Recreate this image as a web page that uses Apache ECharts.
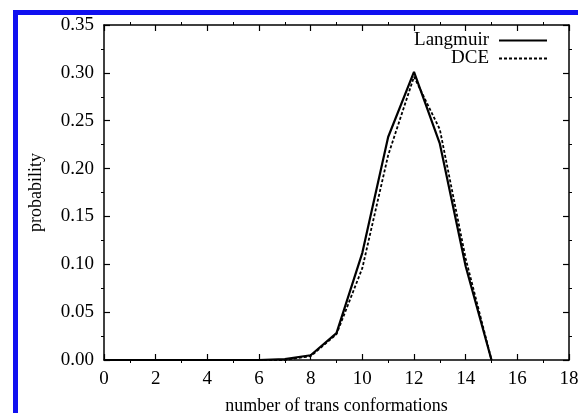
<!DOCTYPE html>
<html>
<head>
<meta charset="utf-8">
<script src="https://cdn.jsdelivr.net/npm/echarts@6/dist/echarts.min.js"></script>
<style>
html,body{margin:0;padding:0;background:#fff;}
#c{width:578px;height:413px;}
</style>
</head>
<body>
<div id="c"></div>
<script>
var xValues = [0,1,2,3,4,5,6,7,8,9,10,11,12,13,14,15];
var langmuir = [0,0,0,0,0,0,0,0.001,0.005,0.028,0.112,0.233,0.301,0.226,0.098,0];
var dce = [0,0,0,0,0,0,0,0,0.004,0.027,0.096,0.214,0.296,0.241,0.106,0];
var seriesNames = ['Langmuir','DCE'];

var font = 'Liberation Serif';
var chart = echarts.init(document.getElementById('c'));
function pairs(v){ return xValues.map(function(x,i){return [x,v[i]];}); }
function tick(){ return {show:true, inside:true, length:6, lineStyle:{color:'#000',width:1.2}}; }
function minor(){ return {show:true, splitNumber:2, length:-3, lineStyle:{color:'#000',width:1}}; }
var axLine = {show:true,onZero:false,lineStyle:{color:'#000',width:1.5}};
chart.setOption({
  animation:false,
  backgroundColor:'#fff',
  grid:{left:104,right:9,top:25,bottom:53,containLabel:false,outerBoundsMode:'none'},
  legend:{
    right:25, top:26, orient:'vertical', align:'right', itemGap:-1,
    itemWidth:48, itemHeight:12,
    itemStyle:{opacity:0},
    textStyle:{fontFamily:font,fontSize:19,color:'#000',lineHeight:16,padding:[0,5,0,0]},
    data:seriesNames
  },
  xAxis:[{
    type:'value', min:0, max:18, interval:2,
    name:'number of trans conformations', nameLocation:'middle', nameGap:37,
    nameTextStyle:{fontFamily:font,fontSize:18,color:'#000'},
    axisLine:axLine, axisTick:tick(), minorTick:minor(), splitLine:{show:false},
    axisLabel:{fontFamily:font,fontSize:19,color:'#000',margin:10}
  },{
    type:'value', position:'top', min:0, max:18, interval:2,
    axisLine:axLine, axisTick:tick(), minorTick:minor(), splitLine:{show:false},
    axisLabel:{show:false}
  }],
  yAxis:[{
    type:'value', min:0, max:0.35, interval:0.05,
    name:'probability', nameLocation:'middle', nameGap:59, nameRotate:90,
    nameTextStyle:{fontFamily:font,fontSize:18,color:'#000'},
    axisLine:axLine, axisTick:tick(), minorTick:minor(), splitLine:{show:false},
    axisLabel:{fontFamily:font,fontSize:19,color:'#000',margin:10,
      formatter:function(v){return v.toFixed(2);}}
  },{
    type:'value', position:'right', min:0, max:0.35, interval:0.05,
    axisLine:axLine, axisTick:tick(), minorTick:minor(), splitLine:{show:false},
    axisLabel:{show:false}
  }],
  graphic:[
    {type:'rect', shape:{x:13,y:10,width:565,height:5}, style:{fill:'#1010f0'}},
    {type:'rect', shape:{x:13,y:10,width:5,height:403}, style:{fill:'#1010f0'}}
  ],
  series:[
    {name:seriesNames[0], type:'line', xAxisIndex:0, yAxisIndex:0, data:pairs(langmuir), symbol:'none',
     lineStyle:{color:'#000',width:2.2,type:'solid'}, itemStyle:{color:'#000'}},
    {name:seriesNames[1], type:'line', xAxisIndex:1, yAxisIndex:1, data:pairs(dce), symbol:'none',
     lineStyle:{color:'#000',width:1.8,type:[3,2]}, itemStyle:{color:'#000'}}
  ]
});
</script>
</body>
</html>
